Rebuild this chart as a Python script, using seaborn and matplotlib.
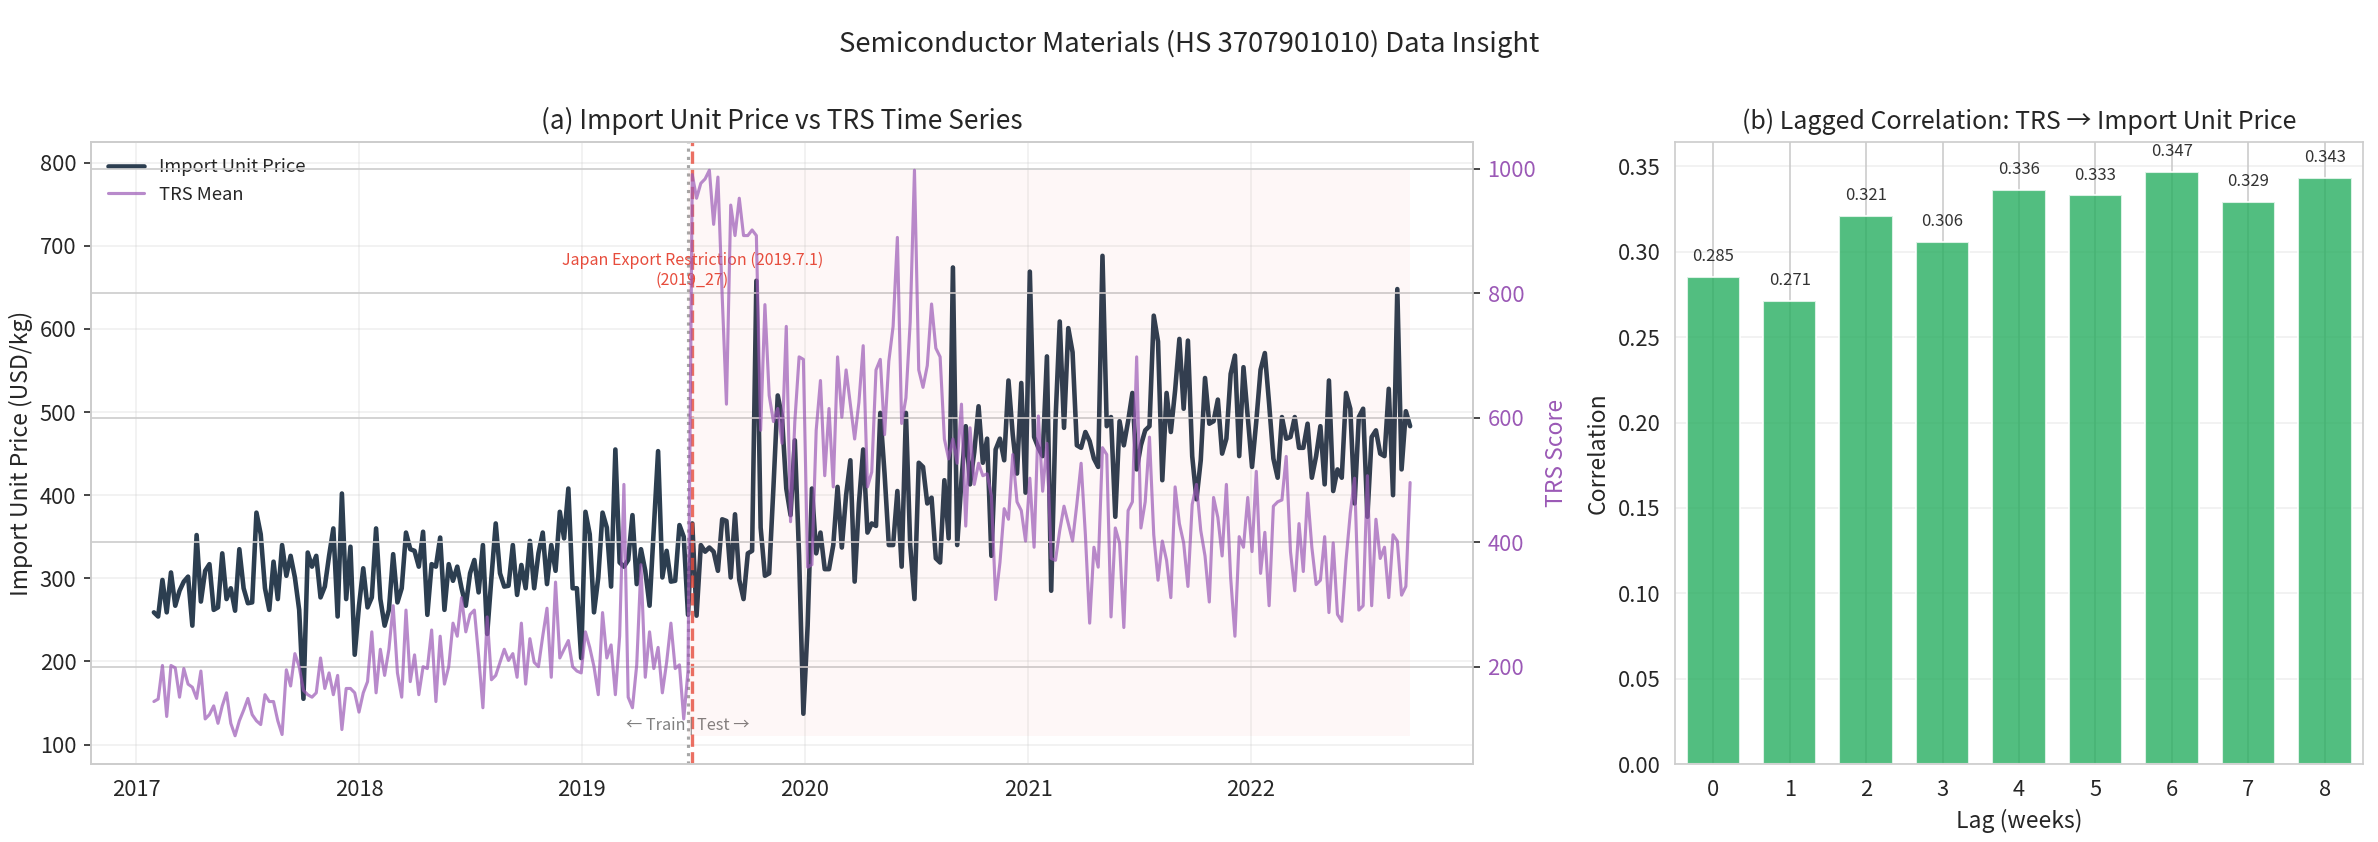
import numpy as np
import pandas as pd
import matplotlib
matplotlib.use("Agg")
import matplotlib.pyplot as plt
import matplotlib.dates as mdates
import seaborn as sns

# ---------------- data ----------------
start_date = "2017-01-30"
split_date = "2019-06-24"
event_date = "2019-07-01"

price = [
    259, 254, 298, 259, 307, 267, 285, 296, 302, 243,
    352, 272, 309, 317, 262, 265, 330, 275, 288, 261,
    335, 288, 270, 271, 379, 353, 288, 262, 320, 275,
    340, 303, 327, 301, 262, 155, 331, 314, 327, 277,
    290, 327, 360, 254, 402, 275, 338, 208, 267, 312,
    265, 277, 360, 275, 243, 262, 329, 271, 288, 355,
    335, 333, 314, 356, 256, 317, 314, 349, 262, 317,
    297, 314, 288, 267, 306, 322, 283,
    340, 233, 301, 366, 306, 290, 291, 340, 280, 316,
    288, 345, 288, 330, 355, 293, 340, 309, 380, 348,
    408, 288, 288, 204, 380, 353, 259, 301, 379, 361,
    290, 455, 319, 314, 322, 376, 293, 335, 309, 267,
    361, 453, 301, 333, 296, 297, 364, 350, 256, 366,
    255, 340, 332, 337, 332, 309, 371, 369, 301, 377,
    298, 275, 330, 333, 658, 361, 303, 306, 410, 520,
    494, 408, 376, 466, 327, 137, 243, 408, 330, 355,
    311, 311, 340, 410, 337, 400, 442, 296, 390, 455,
    355, 366, 363,
    499, 426, 340, 340, 405, 314, 499, 340, 275, 439,
    434, 390, 397, 324, 319, 418, 348, 674, 340, 418,
    483, 413, 452, 507, 439, 468, 327, 455, 468, 442,
    538, 473, 426, 535, 403, 669, 470, 457, 447, 567,
    285, 489, 609, 481, 601, 572, 460, 457, 476, 465,
    444, 434, 688, 483, 494, 374, 489, 460, 489, 523,
    431, 460, 478, 483, 616, 585, 418, 523, 476, 526,
    588, 504, 586, 447, 395, 442, 541, 486, 489, 515,
    450, 468, 546, 568, 447, 554, 494, 434, 489, 551,
    571, 510, 444, 421,
    494, 468, 470, 494, 457, 457, 486, 421, 447, 483,
    413, 538, 405, 431, 421, 523, 504, 390, 494, 504,
    374, 470, 478, 450, 447, 528, 400, 648, 431, 501, 483,
]

trs = [
    144, 148, 202, 120, 202, 198, 151, 197, 172, 167,
    149, 193, 116, 123, 137, 109, 137, 158, 109, 89,
    113, 130, 149, 123, 113, 107, 155, 144, 144, 113,
    91, 195, 169, 221, 200, 162, 155, 151, 158, 214,
    165, 190, 155, 186, 99, 165, 165, 158, 127, 158,
    176, 256, 158, 228, 186, 228, 298, 190, 151, 291,
    176, 219, 155, 200, 197, 259, 144, 249, 172, 200,
    270, 249, 311, 256, 284, 291, 217,
    134, 280, 179, 186, 207, 228, 210, 221, 183, 270,
    172, 245, 207, 200, 249, 294, 183, 336, 214, 228,
    242, 200, 193, 190, 256, 231, 200, 155, 287, 214,
    235, 155, 249, 493, 151, 134, 203, 364, 183, 256,
    197, 231, 158, 207, 270, 197, 203, 116, 193, 991,
    953, 977, 984, 998, 911, 987, 796, 622, 942, 893,
    953, 893, 893, 902, 893, 580, 782, 636, 594, 615,
    559, 747, 433, 594, 698, 694, 360, 364, 580, 660,
    507, 615, 489, 698, 601, 677, 622, 566, 625, 716,
    489, 513, 677,
    694, 573, 691, 747, 890, 591, 632, 754, 998, 677,
    649, 684, 783, 712, 698, 566, 534, 566, 527, 622,
    426, 584, 493, 527, 507, 510, 475, 308, 367, 454,
    437, 541, 465, 451, 402, 503, 392, 603, 482, 559,
    374, 371, 419, 458, 430, 402, 461, 527, 412, 270,
    392, 360, 552, 541, 280, 423, 399, 263, 451, 465,
    698, 423, 465, 569, 412, 339, 402, 371, 311, 489,
    430, 399, 329, 461, 493, 419, 378, 304, 472, 440,
    378, 493, 343, 249, 409, 392, 472, 385, 514, 350,
    416, 298, 458, 465,
    468, 538, 385, 322, 430, 353, 479, 392, 332, 339,
    409, 287, 399, 284, 273, 371, 447, 503, 291, 298,
    507, 298, 437, 374, 392, 311, 412, 402, 315, 329, 496,
]

lags = [0, 1, 2, 3, 4, 5, 6, 7, 8]
corr = [0.285, 0.271, 0.321, 0.306, 0.336, 0.333, 0.347, 0.329, 0.343]

# ---------------- style ----------------
sns.set_style("whitegrid")
plt.rcParams["font.family"] = ["Noto Sans CJK KR", "DejaVu Sans"]
plt.rcParams["axes.edgecolor"] = "#cccccc"
plt.rcParams["axes.unicode_minus"] = False

C_PRICE = "#2c3e50"
C_TRS = "#9b59b6"
C_RED = "#e74c3c"
C_BAR = "#27ae60"

dates = pd.date_range(start_date, periods=len(price), freq="7D")
df = pd.DataFrame({"date": dates, "price": price, "trs": trs})
test = df[df["date"] >= pd.Timestamp(split_date)]

fig = plt.figure(figsize=(2378 / 150, 842 / 150), dpi=150)
ax1 = fig.add_axes([0.0383, 0.0926, 0.5811, 0.7388])
ax3 = fig.add_axes([0.7044, 0.0926, 0.2893, 0.7388])

# ---------------- (a) time series ----------------
sns.lineplot(data=df, x="date", y="price", ax=ax1, color=C_PRICE,
             linewidth=2.2, label="Import Unit Price")
ax1.grid(True, alpha=0.3)
ax2 = ax1.twinx()
sns.lineplot(data=df, x="date", y="trs", ax=ax2, color=C_TRS,
             linewidth=1.5, alpha=0.7, label="TRS Mean")
ax2.fill_between(test["date"], df["trs"].min(), df["trs"].max(),
                 color=C_RED, alpha=0.04, linewidth=0)

ax1.axvline(pd.Timestamp(event_date), color=C_RED, linestyle="--",
            linewidth=1.6, alpha=0.8)
ax1.axvline(pd.Timestamp(split_date), color="gray", linestyle=":",
            linewidth=1.5, alpha=0.7)
ax1.set_ylim(76.5, 825)
ax1.text(pd.Timestamp(event_date), 671,
         "Japan Export Restriction (2019.7.1)\n(2019_27)",
         color=C_RED, fontsize=7.7, ha="center", va="center")
ax1.text(pd.Timestamp(split_date), 122, "← Train | Test →",
         color="gray", fontsize=7.8, ha="center", va="center")

ax1.xaxis.set_major_locator(mdates.YearLocator())
ax1.xaxis.set_major_formatter(mdates.DateFormatter("%Y"))
ax1.set_xlabel("")
ax1.set_ylabel("Import Unit Price (USD/kg)", fontsize=11, labelpad=3)
ax2.set_ylabel("TRS Score", fontsize=11, color=C_TRS)
ax2.tick_params(axis="y", labelcolor=C_TRS, labelsize=10.5)
ax1.tick_params(labelsize=10.5)
ax1.set_title("(a) Import Unit Price vs TRS Time Series", fontsize=12.6)

h1, l1 = ax1.get_legend_handles_labels()
h2, l2 = ax2.get_legend_handles_labels()
if ax2.get_legend() is not None:
    ax2.get_legend().remove()
ax1.legend(h1 + h2, l1 + l2, loc="upper left", fontsize=8.8, frameon=False)

# ---------------- (b) lagged correlation ----------------
dfb = pd.DataFrame({"lag": lags, "corr": corr})
sns.barplot(data=dfb, x="lag", y="corr", ax=ax3, color=C_BAR, alpha=0.8,
            saturation=1, width=0.7)
ax3.xaxis.grid(True)
ax3.yaxis.grid(True, alpha=0.3)
for i, v in enumerate(corr):
    ax3.text(i, v + 0.007, f"{v:.3f}", ha="center", va="bottom",
             fontsize=8, color="#333333")
ax3.set_xlabel("Lag (weeks)", fontsize=11)
ax3.set_ylabel("Correlation", fontsize=11)
ax3.set_title("(b) Lagged Correlation: TRS → Import Unit Price", fontsize=12)
ax3.tick_params(labelsize=10.5)

fig.suptitle("Semiconductor Materials (HS 3707901010) Data Insight",
             fontsize=13.2, y=0.965)

fig.savefig("out.png", dpi=150)
